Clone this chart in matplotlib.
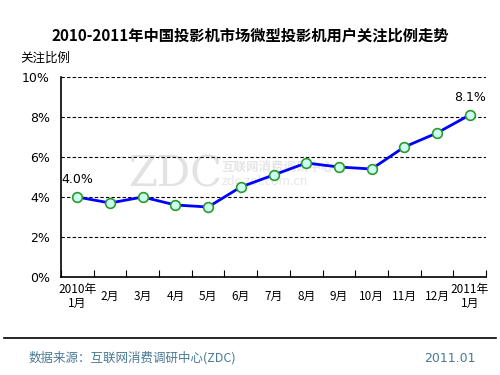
import matplotlib
matplotlib.use("Agg")
import matplotlib.pyplot as plt

plt.rcParams['font.family'] = ['Noto Sans CJK SC', 'DejaVu Sans']

categories = ['2010年\n1月', '2月', '3月', '4月', '5月', '6月', '7月', '8月',
              '9月', '10月', '11月', '12月', '2011年\n1月']
values = [4.0, 3.7, 4.0, 3.6, 3.5, 4.5, 5.1, 5.7, 5.5, 5.4, 6.5, 7.2, 8.1]
y_ticks = [0, 2, 4, 6, 8, 10]
y_tick_labels = ['0%', '2%', '4%', '6%', '8%', '10%']

fig = plt.figure(figsize=(5, 3.75), dpi=100)
ax = fig.add_axes([0.122, 0.2613, 0.850, 0.5334])

n = len(values)
xs = [i + 0.5 for i in range(n)]

# watermark
ax.text(3.5, 5.1, 'ZDC', fontsize=30, color='#e2e2e2', family='DejaVu Serif',
        va='center', ha='center', zorder=0)
ax.text(4.9, 5.5, '互联网消费调研中心', fontsize=9, color='#e6e6e6', va='center',
        ha='left', zorder=0, fontweight='bold')
ax.text(4.9, 4.8, 'zdc.zol.com.cn', fontsize=9, color='#e6e6e6', va='center',
        ha='left', zorder=0)

for y in y_ticks[1:]:
    ax.axhline(y, color='black', lw=0.8, ls=(0, (3, 2)), zorder=1)

ax.plot(xs, values, color='#0000ff', lw=2, zorder=3,
        marker='o', ms=7, mfc='#ccfff0', mec='#2a9a2a', mew=1.2)

ax.text(xs[0], values[0] + 0.55, '4.0%', ha='center', va='bottom', fontsize=9,
        family='DejaVu Sans')
ax.text(xs[-1], values[-1] + 0.55, '8.1%', ha='center', va='bottom', fontsize=9,
        family='DejaVu Sans')

ax.set_xlim(0, n)
ax.set_ylim(0, 10)
ax.set_yticks(y_ticks)
ax.set_yticklabels(y_tick_labels, fontsize=9, family='DejaVu Sans')
ax.tick_params(axis='y', length=0, pad=8)
ax.set_xticks(range(n + 1))
ax.set_xticklabels([])
ax.tick_params(axis='x', which='major', direction='in', length=5, color='black')

xt = ax.get_xaxis_transform()
for x, lab in zip(xs, categories):
    ax.text(x, -0.098, lab, transform=xt, ha='center', va='center',
            fontsize=8.5, linespacing=1.15)

for s in ['top', 'right']:
    ax.spines[s].set_visible(False)
for s in ['left', 'bottom']:
    ax.spines[s].set_color('black')
    ax.spines[s].set_linewidth(1.2)

fig.text(0.5, 0.905, '2010-2011年中国投影机市场微型投影机用户关注比例走势',
         ha='center', va='center', fontsize=11, fontweight='bold')
fig.text(0.04, 0.845, '关注比例', ha='left', va='center', fontsize=9)

fig.add_artist(plt.Line2D([0.008, 0.992], [1 - 338 / 375, 1 - 338 / 375],
                          color='black', lw=1.2, transform=fig.transFigure))
fig.text(0.057, 1 - 358 / 375, '数据来源：互联网消费调研中心(ZDC)', ha='left',
         va='center', fontsize=9, color='#4a7a95')
fig.text(0.952, 1 - 358 / 375, '2011.01', ha='right', va='center', fontsize=9,
         color='#4a7a95', family='DejaVu Sans')

fig.savefig('out.png', dpi=100)
